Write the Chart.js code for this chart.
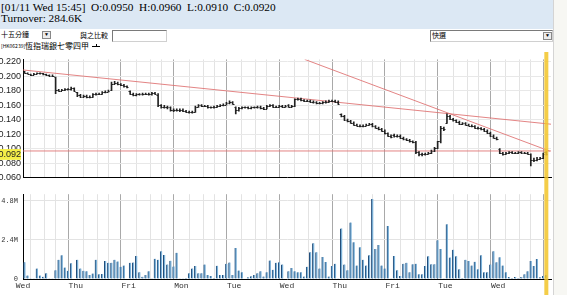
<!DOCTYPE html>
<html>
<head>
<meta charset="utf-8">
<script src="https://cdn.jsdelivr.net/npm/chart.js"></script>
<style>
  body { margin:0; width:567px; height:295px; overflow:hidden; background:#fff; position:relative; font-family:"Liberation Serif", serif; }
  #head { position:absolute; left:0; top:0; width:553px; height:29px; background:#dce8f4; }
  .hl { position:absolute; left:1px; font-size:11.3px; line-height:11px; white-space:pre; color:#000; }
  .cjk { font-family:"Noto Sans CJK TC", sans-serif; position:absolute; white-space:pre; color:#000; }
  .box { position:absolute; background:#fff; border:1px solid #a0a0a0; box-sizing:border-box; }
  .arrow { position:absolute; width:9px; height:8px; background:#ececec; border:1px solid #888; box-sizing:border-box; font-size:5px; line-height:6px; text-align:center; }
  #side { position:absolute; left:553px; top:0; width:14px; height:295px; background:#f7f7f3; border-left:1px solid #d4d4d4; }
  canvas { position:absolute; left:0; }
</style>
</head>
<body>
<div id="head">
  <div class="hl" style="top:2px">[01/11 Wed 15:45]  O:0.0950  H:0.0960  L:0.0910  C:0.0920</div>
  <div class="hl" style="top:13px">Turnover: 284.6K</div>
</div>
<div id="side"></div>

<div class="cjk" style="left:1px; top:30px; font-size:7px; line-height:8px;">十五分鐘</div>
<div class="arrow" style="left:42px; top:31px;">▼</div>
<div class="cjk" style="left:80px; top:31px; font-size:7px; line-height:8px;">與之比較</div>
<div class="box" style="left:112px; top:30px; width:55px; height:12px; border-color:#7a7a7a #d0d0d0 #d0d0d0 #7a7a7a;"></div>
<div class="box" style="left:430px; top:30px; width:123px; height:12px; border-color:#7a7a7a #d0d0d0 #d0d0d0 #7a7a7a;"></div>
<div class="cjk" style="left:432px; top:31px; font-size:7px; line-height:8px;">快選</div>
<div class="arrow" style="left:543px; top:32px;">▼</div>

<div class="cjk" style="left:1px; top:42px; font-size:5px; line-height:8px;">[HK06239]</div>
<div class="cjk" style="left:25px; top:41px; font-size:8px; line-height:9px;">恆指瑞銀七零四甲</div>
<div style="position:absolute; left:92px; top:46px; width:8px; height:0; border-top:1px solid #000;"></div>
<div style="position:absolute; left:96px; top:44px; width:0; height:2px; border-left:1px solid #000;"></div>

<canvas id="price" width="553" height="133" style="top:52px"></canvas>
<canvas id="vol" width="553" height="110" style="top:185px"></canvas>

<script>
// 15-minute bars, 17 per trading day
const dayLabels = ['Wed', 'Thu', 'Fri', 'Mon', 'Tue', 'Wed', 'Thu', 'Fri', 'Tue', 'Wed'];
const barsPerDay = 17;
const hourMarks = [5, 9, 12];

const opens = [
  .206,.205,.203,.202,.203,.204,.204,.203,.202,.201,.199,.181,.180,.181,.182,.182,.184,
  .178,.174,.172,.173,.171,.172,.175,.176,.176,.178,.179,.181,.190,.191,.189,.188,.186,
  .180,.176,.174,.175,.175,.176,.176,.175,.177,.174,.160,.158,.158,.157,.154,.153,.154,
  .154,.152,.151,.150,.151,.158,.160,.159,.159,.157,.157,.158,.159,.160,.161,.163,.164,
  .158,.153,.156,.157,.157,.156,.157,.157,.158,.156,.155,.159,.160,.158,.158,.159,.158,
  .160,.158,.159,.168,.169,.167,.166,.166,.165,.164,.163,.163,.164,.165,.166,.166,.165,
  .148,.145,.140,.138,.136,.133,.132,.131,.132,.133,.134,.131,.129,.127,.125,.121,.118,
  .119,.117,.118,.115,.113,.112,.110,.109,.095,.093,.092,.093,.094,.097,.101,.110,.128,
  .135,.145,.141,.139,.137,.134,.135,.133,.132,.131,.129,.128,.127,.125,.122,.118,.115,
  .100,.094,.093,.094,.095,.094,.094,.095,.094,.094,.093,.085,.084,.086,.087,.095
];
const highs = [
  .207,.205,.203,.204,.205,.205,.204,.203,.202,.202,.199,.182,.182,.183,.183,.185,.184,
  .178,.175,.174,.174,.173,.176,.177,.177,.179,.180,.181,.192,.193,.192,.190,.189,.187,
  .180,.177,.176,.176,.177,.177,.177,.178,.178,.176,.161,.160,.159,.158,.155,.155,.155,
  .155,.153,.152,.152,.159,.161,.161,.160,.160,.158,.159,.160,.161,.162,.164,.166,.165,
  .158,.157,.158,.158,.158,.158,.158,.159,.159,.157,.160,.161,.161,.159,.160,.160,.160,
  .161,.160,.169,.170,.170,.168,.167,.167,.166,.165,.164,.165,.166,.167,.167,.167,.166,
  .148,.146,.141,.139,.137,.134,.133,.133,.134,.135,.135,.132,.130,.128,.126,.122,.119,
  .120,.119,.119,.116,.114,.113,.111,.110,.096,.094,.094,.095,.098,.102,.110,.131,.130,
  .148,.146,.142,.140,.138,.136,.136,.134,.133,.132,.130,.129,.128,.126,.123,.119,.116,
  .100,.095,.095,.096,.096,.095,.096,.096,.095,.095,.093,.087,.088,.088,.094,.096
];
const lows = [
  .204,.203,.201,.202,.203,.203,.202,.201,.200,.200,.176,.179,.180,.180,.181,.181,.179,
  .172,.171,.171,.170,.170,.171,.174,.175,.175,.177,.178,.180,.189,.188,.187,.185,.184,
  .175,.173,.173,.174,.174,.175,.174,.174,.175,.158,.156,.156,.155,.152,.151,.152,.151,
  .151,.150,.149,.149,.150,.157,.158,.158,.156,.156,.156,.157,.158,.159,.160,.162,.161,
  .148,.152,.155,.156,.155,.155,.156,.156,.155,.154,.155,.158,.157,.157,.157,.157,.157,
  .157,.157,.158,.167,.166,.165,.165,.164,.163,.162,.162,.162,.163,.164,.165,.164,.161,
  .144,.139,.137,.135,.132,.131,.130,.130,.131,.132,.130,.128,.126,.124,.120,.117,.115,
  .116,.116,.114,.112,.111,.109,.108,.093,.090,.090,.091,.092,.093,.096,.100,.108,.125,
  .135,.140,.138,.136,.133,.133,.132,.131,.130,.128,.127,.126,.124,.121,.117,.114,.112,
  .093,.091,.092,.093,.093,.093,.093,.093,.093,.092,.076,.082,.083,.085,.086,.091
];
const closes = [
  .205,.203,.202,.203,.204,.204,.203,.202,.201,.201,.181,.180,.181,.182,.182,.184,.180,
  .174,.172,.173,.171,.172,.175,.176,.176,.178,.179,.180,.190,.191,.189,.188,.186,.185,
  .176,.174,.175,.175,.176,.176,.175,.177,.176,.160,.158,.158,.157,.154,.153,.154,.153,
  .152,.151,.150,.151,.158,.160,.159,.159,.157,.157,.158,.159,.160,.161,.163,.164,.162,
  .153,.156,.157,.157,.156,.157,.157,.158,.156,.155,.159,.160,.158,.158,.159,.158,.159,
  .158,.159,.168,.169,.167,.166,.166,.165,.164,.163,.163,.164,.165,.166,.166,.165,.162,
  .145,.140,.138,.136,.133,.132,.131,.132,.133,.134,.131,.129,.127,.125,.121,.118,.116,
  .117,.118,.115,.113,.112,.110,.109,.095,.093,.092,.093,.094,.097,.101,.110,.128,.127,
  .145,.141,.139,.137,.134,.135,.133,.132,.131,.129,.128,.127,.125,.122,.118,.115,.113,
  .094,.093,.094,.095,.094,.094,.095,.094,.094,.093,.085,.084,.086,.087,.093,.092
];
// turnover per bar, millions
const volumesM = [
  1.03,0.21,0.05,0.05,0.64,0.21,0.14,0.35,0.02,0.05,0.54,1.18,1.45,0.70,0.50,0.97,0.03,
  1.18,0.64,0.50,0.48,0.25,0.33,1.18,0.29,0.31,1.10,0.99,0.99,1.18,1.08,0.75,0.83,0.03,
  0.99,1.01,1.41,0.41,0.14,0.25,0.48,0.02,1.24,1.18,1.70,1.47,0.89,1.12,0.77,1.61,0.02,
  0.02,0.06,0.36,0.64,0.80,0.35,0.35,0.89,0.25,0.19,0.06,0.81,0.25,0.25,0.93,1.01,0.25,
  1.90,0.52,0.41,0.03,0.10,0.17,0.25,0.35,0.48,0.15,0.41,1.14,0.56,0.99,1.03,0.89,0.03,
  0.48,0.68,0.48,0.41,0.41,0.15,0.75,1.64,2.19,1.64,0.64,1.35,1.04,0.15,0.79,0.93,0.05,
  3.10,0.89,0.54,3.46,2.26,0.83,1.95,1.18,0.83,1.45,4.90,1.84,2.09,0.83,0.64,3.25,0.05,
  1.41,0.54,0.19,0.93,0.99,0.41,0.91,0.93,0.29,0.29,0.79,1.39,0.91,0.91,2.38,1.84,0.05,
  3.35,1.32,1.80,1.39,0.60,0.06,1.18,1.10,0.83,1.06,0.60,1.45,0.41,0.41,0.89,1.70,1.03,
  1.34,0.83,0.41,0.12,0.06,0.12,0.06,0.12,0.29,0.48,1.10,0.79,1.22,0.10,0.19,0.25
];

const priceTicks = [0.06, 0.08, 0.10, 0.12, 0.14, 0.16, 0.18, 0.20, 0.22];
const lastPrice = 0.092;
const volTicks = [0, 2.4, 4.8];

// user-drawn trend lines: [bar position, price]
const trendLong = [[0, 0.2088], [170, 0.1338]];
const trendSteep = [[90.7, 0.2234], [169.6, 0.0966]];
const support = [[0, 0.0968], [170, 0.0968]];

const nSlots = dayLabels.length * barsPerDay;
const gridTicks = [];
dayLabels.forEach((d, i) => {
  gridTicks.push(i * barsPerDay);
  hourMarks.forEach(h => gridTicks.push(i * barsPerDay + h));
});
gridTicks.push(nSlots);

const dayGrid = c => (c.tick && c.tick.value % barsPerDay === 0) ? '#a9a9a9' : '#e3e3e3';

const cursor = {
  id: 'cursor',
  afterDatasetsDraw(chart) {
    const {ctx, scales: {x}} = chart;
    const px = x.getPixelForValue(closes.length - 0.5);
    ctx.save();
    ctx.fillStyle = 'rgba(242,196,40,0.85)';
    ctx.fillRect(px - 2, 0, 4, chart.height);
    ctx.restore();
  }
};

const ohlcTicks = {
  id: 'ohlcTicks',
  afterDatasetsDraw(chart) {
    const {ctx, scales: {x, y}} = chart;
    ctx.save();
    ctx.strokeStyle = '#222';
    ctx.lineWidth = 1;
    ctx.beginPath();
    opens.forEach((o, i) => {
      const px = Math.round(x.getPixelForValue(i + 0.5));
      const yo = Math.round(y.getPixelForValue(o)) + 0.5;
      const yc = Math.round(y.getPixelForValue(closes[i])) + 0.5;
      ctx.moveTo(px - 1.5, yo); ctx.lineTo(px, yo);
      ctx.moveTo(px, yc); ctx.lineTo(px + 1.5, yc);
    });
    ctx.stroke();
    ctx.restore();
  }
};

const trendDs = pts => ({
  type: 'line',
  data: pts.map(p => ({x: p[0], y: p[1]})),
  borderColor: 'rgba(222,110,110,0.85)',
  borderWidth: 1,
  pointRadius: 0
});

new Chart(document.getElementById('price'), {
  type: 'bar',
  data: {
    datasets: [
      {
        data: opens.map((o, i) => ({x: i + 0.5, y: [lows[i], highs[i]]})),
        backgroundColor: '#222',
        barThickness: 1
      },
      trendDs(trendLong),
      trendDs(trendSteep),
      trendDs(support)
    ]
  },
  options: {
    responsive: false,
    animation: false,
    layout: { padding: { top: 5, right: 2 } },
    plugins: { legend: { display: false }, tooltip: { enabled: false } },
    scales: {
      x: {
        type: 'linear', min: 0, max: nSlots, offset: false,
        afterBuildTicks: s => { s.ticks = gridTicks.map(v => ({value: v})); },
        afterFit: s => { s.height = 2; },
        grid: { color: dayGrid, drawTicks: false },
        border: { color: '#000' },
        ticks: { display: false }
      },
      y: {
        min: 0.06, max: 0.2234,
        afterBuildTicks: s => { s.ticks = priceTicks.concat([lastPrice]).map(v => ({value: v})); },
        afterFit: s => { s.width = 23; },
        grid: { color: c => c.tick.value === lastPrice ? 'rgba(0,0,0,0)' : '#e8e8e8', drawTicks: false },
        border: { color: '#000' },
        ticks: {
          autoSkip: false,
          padding: 2,
          color: '#222',
          font: { family: 'Liberation Sans', size: 9 },
          callback: v => v.toFixed(3),
          showLabelBackdrop: true,
          backdropPadding: 0,
          backdropColor: c => c.tick.value === lastPrice ? '#f4ee48' : 'rgba(0,0,0,0)'
        }
      }
    }
  },
  plugins: [ohlcTicks, cursor]
});

new Chart(document.getElementById('vol'), {
  type: 'bar',
  data: {
    datasets: [{
      data: volumesM.map((v, i) => ({x: i + 0.5, y: v})),
      backgroundColor: '#7db3da',
      borderColor: '#1f4b78',
      borderWidth: { left: 1, top: 0, right: 0, bottom: 0 },
      borderSkipped: false,
      barThickness: 2
    }]
  },
  options: {
    responsive: false,
    animation: false,
    layout: { padding: { top: 4, right: 2 } },
    plugins: { legend: { display: false }, tooltip: { enabled: false } },
    scales: {
      x: {
        type: 'linear', min: 0, max: nSlots, offset: false,
        afterBuildTicks: s => { s.ticks = gridTicks.map(v => ({value: v})); },
        afterFit: s => { s.height = 16; },
        grid: { color: dayGrid, drawTicks: false },
        border: { color: '#000' },
        ticks: {
          autoSkip: false, maxRotation: 0, padding: 2,
          color: '#333',
          font: { family: 'Liberation Mono', size: 8 },
          callback: v => (v % barsPerDay === 0 && dayLabels[v / barsPerDay]) || ''
        }
      },
      y: {
        min: 0, max: 5.2,
        afterBuildTicks: s => { s.ticks = volTicks.map(v => ({value: v})); },
        afterFit: s => { s.width = 23; },
        grid: { color: '#e3e3e3', drawTicks: false },
        border: { color: '#000' },
        ticks: {
          autoSkip: false, padding: 5,
          color: '#333',
          font: { family: 'Liberation Mono', size: 7 },
          callback: v => v === 0 ? '0' : v.toFixed(1) + 'M'
        }
      }
    }
  },
  plugins: [cursor]
});
</script>
</body>
</html>
